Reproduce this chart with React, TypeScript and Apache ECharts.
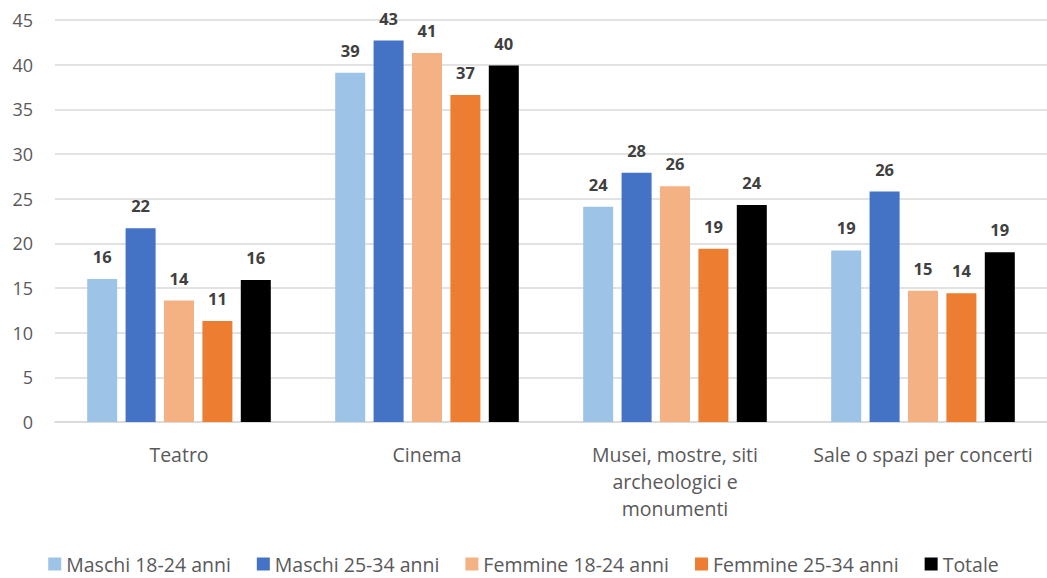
import React, { useEffect, useRef } from "react";
import * as echarts from "echarts";

const categories = [
  "Teatro",
  "Cinema",
  "Musei, mostre, siti\narcheologici e\nmonumenti",
  "Sale o spazi per concerti",
];
const seriesNames = [
  "Maschi 18-24 anni",
  "Maschi 25-34 anni",
  "Femmine 18-24 anni",
  "Femmine 25-34 anni",
  "Totale",
];
const maschi1824 = [16.0, 39.1, 24.1, 19.2];
const maschi2534 = [21.7, 42.7, 27.9, 25.8];
const femmine1824 = [13.6, 41.3, 26.4, 14.7];
const femmine2534 = [11.3, 36.6, 19.4, 14.4];
const totale = [15.9, 39.9, 24.3, 19.0];
const colors = ["#9DC3E6", "#4472C4", "#F4B183", "#ED7D31", "#000000"];
const yTicks = { min: 0, max: 45, interval: 5 };

export default function App() {
  const ref = useRef<HTMLDivElement>(null);
  useEffect(() => {
    if (!ref.current) return;
    const chart = echarts.init(ref.current, undefined, { renderer: "svg" });
    const data = [maschi1824, maschi2534, femmine1824, femmine2534, totale];
    chart.setOption({
      animation: false,
      textStyle: { fontFamily: "Open Sans" },
      grid: { left: 55, width: 998, top: 20, bottom: 156, containLabel: false },
      legend: {
        bottom: 2,
        padding: 0,
        left: "center",
        itemWidth: 13,
        itemHeight: 13,
        itemGap: 26,
        icon: "rect",
        textStyle: {
          color: "#595959",
          fontSize: 19.5,
          lineHeight: 24,
          fontFamily: "Open Sans",
        },
        data: seriesNames,
      },
      xAxis: {
        type: "category",
        data: categories,
        axisLine: { lineStyle: { color: "#D9D9D9", width: 1.5 } },
        axisTick: { show: false },
        axisLabel: {
          color: "#595959",
          fontSize: 19.5,
          lineHeight: 27,
          margin: 19,
          interval: 0,
        },
      },
      yAxis: {
        type: "value",
        min: yTicks.min,
        max: yTicks.max,
        interval: yTicks.interval,
        axisLine: { show: false },
        axisTick: { show: false },
        splitLine: { lineStyle: { color: "#D9D9D9", width: 1.5 } },
        axisLabel: { color: "#595959", fontSize: 18, margin: 22 },
      },
      series: seriesNames.map((name, i) => ({
        name,
        type: "bar",
        data: data[i],
        barWidth: 30,
        barGap: "28%",
        itemStyle: { color: colors[i] },
        label: {
          show: true,
          position: "top",
          distance: 14,
          color: "#404040",
          fontSize: 16.5,
          fontWeight: "bold",
          formatter: (p: any) => String(Math.round(p.value)),
        },
      })),
    });
    return () => chart.dispose();
  }, []);
  return (
    <div
      ref={ref}
      style={{ position: "absolute", left: 0, top: 0, width: 1047, height: 578 }}
    />
  );
}
